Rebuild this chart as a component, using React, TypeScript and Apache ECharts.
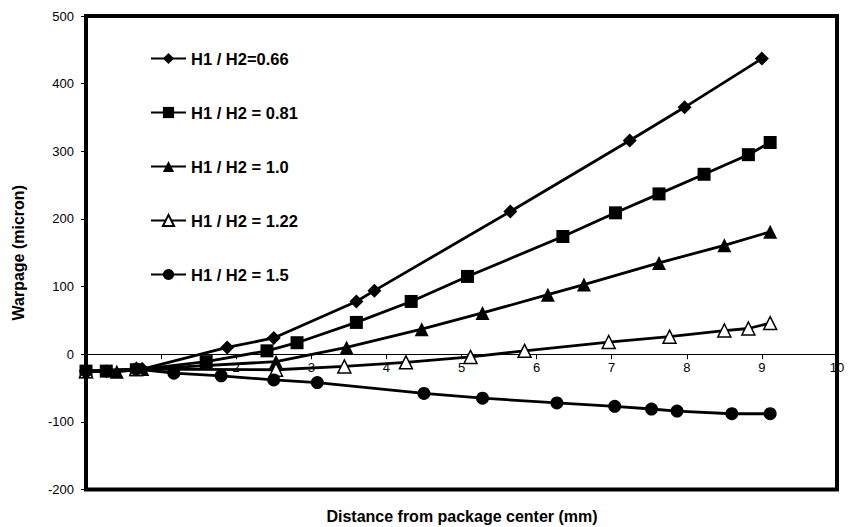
import React, { useEffect, useRef } from "react";
import * as echarts from "echarts";

const seriesNames = ["H1 / H2=0.66", "H1 / H2 = 0.81", "H1 / H2 = 1.0", "H1 / H2 = 1.22", "H1 / H2 = 1.5"];

const xDiamond = [0, 0.27, 0.75, 1.88, 2.5, 3.6, 3.84, 5.65, 7.24, 7.97, 9.0];
const yDiamond = [-25, -25, -22, 10, 24, 78, 94, 211, 316, 365, 437];

const xSquare = [0, 0.27, 0.67, 1.6, 2.41, 2.81, 3.6, 4.33, 5.08, 6.35, 7.05, 7.63, 8.23, 8.82, 9.11];
const ySquare = [-25, -25, -23, -11, 5, 17, 47, 78, 115, 174, 209, 237, 266, 295, 313];

const xTriangle = [0, 0.41, 0.75, 2.53, 3.47, 4.47, 5.28, 6.15, 6.63, 7.63, 8.5, 9.11];
const yTriangle = [-25, -26, -22, -11, 10, 37, 61, 88, 103, 135, 161, 181];

const xOpen = [0, 0.67, 2.53, 3.44, 4.26, 5.12, 5.84, 6.96, 7.77, 8.5, 8.82, 9.11];
const yOpen = [-25, -22, -23, -18, -12, -4, 5, 18, 26, 35, 38, 46];

const xCircle = [0, 0.67, 1.17, 1.8, 2.5, 3.08, 4.5, 5.28, 6.27, 7.04, 7.53, 7.87, 8.6, 9.11];
const yCircle = [-25, -22, -28, -32, -38, -42, -58, -65, -72, -77, -81, -84, -88, -88];

const xTicks = [0, 1, 2, 3, 4, 5, 6, 7, 8, 9, 10];
const yMin = -200;
const yMax = 500;

const pair = (xs: number[], ys: number[]) => xs.map((x, i) => [x, ys[i]]);

export default function App() {
  const ref = useRef<HTMLDivElement>(null);
  useEffect(() => {
    if (!ref.current) return;
    const chart = echarts.init(ref.current, null, { renderer: "svg" });
    const font = "Arial, 'Liberation Sans', sans-serif";
    const gridTop = 16;
    const gridBottom = 37.5;
    const gridH = 527 - gridTop - gridBottom;
    const zeroOffset = -(gridH * (0 - yMin)) / (yMax - yMin);
    const mk = (name: string, xs: number[], ys: number[], symbol: string, size: number, open = false) => ({
      name,
      type: "line",
      data: pair(xs, ys),
      symbol,
      symbolSize: size,
      showAllSymbol: true,
      lineStyle: { color: "#000", width: 2.8 },
      itemStyle: open
        ? { color: "#fff", borderColor: "#000", borderWidth: 1.5, opacity: 1 }
        : { color: "#000", borderWidth: 0 },
      emphasis: { disabled: true },
    });
    chart.setOption({
      animation: false,
      backgroundColor: "#fff",
      grid: {
        left: 86,
        right: 11,
        top: gridTop,
        bottom: gridBottom,
        show: true,
        borderColor: "#000",
        borderWidth: 4,
        containLabel: false,
      },
      legend: {
        orient: "vertical",
        left: 145,
        top: 45,
        itemWidth: 35,
        itemHeight: 14,
        itemGap: 37,
        data: seriesNames,
        textStyle: { fontFamily: font, fontWeight: "bold", fontSize: 16.5, color: "#000" },
      },
      xAxis: {
        type: "value",
        min: xTicks[0],
        max: xTicks[xTicks.length - 1],
        interval: 1,
        position: "bottom",
        offset: zeroOffset,
        axisLine: { show: true, onZero: false, lineStyle: { color: "#000", width: 1 } },
        axisTick: { show: true, length: 5, lineStyle: { color: "#000", width: 1 } },
        axisLabel: {
          margin: 7,
          fontFamily: font,
          fontSize: 13,
          color: "#000",
          formatter: (v: number) => (v === 0 ? "" : String(v)),
        },
        splitLine: { show: false },
      },
      yAxis: {
        type: "value",
        min: yMin,
        max: yMax,
        interval: 100,
        name: "Warpage (micron)",
        nameLocation: "middle",
        nameGap: 60,
        nameTextStyle: { fontFamily: font, fontWeight: "bold", fontSize: 16, color: "#000" },
        axisLine: { show: false },
        axisTick: { show: true, length: 5, lineStyle: { color: "#000", width: 1 } },
        axisLabel: { margin: 12, fontFamily: font, fontSize: 13, color: "#000" },
        splitLine: { show: false },
      },
      graphic: [
        {
          type: "text",
          x: 462,
          y: 516,
          style: {
            text: "Distance from package center (mm)",
            fontFamily: font,
            fontWeight: "bold",
            fontSize: 16,
            fill: "#000",
            textAlign: "center",
            textVerticalAlign: "middle",
          },
        },
      ],
      series: [
        mk(seriesNames[0], xDiamond, yDiamond, "diamond", 14),
        mk(seriesNames[1], xSquare, ySquare, "rect", 13),
        mk(seriesNames[2], xTriangle, yTriangle, "triangle", 14),
        mk(seriesNames[3], xOpen, yOpen, "triangle", 13, true),
        mk(seriesNames[4], xCircle, yCircle, "circle", 13),
      ],
    });
    return () => chart.dispose();
  }, []);
  return <div ref={ref} style={{ width: 848, height: 527, position: "absolute", left: 0, top: 0 }} />;
}
